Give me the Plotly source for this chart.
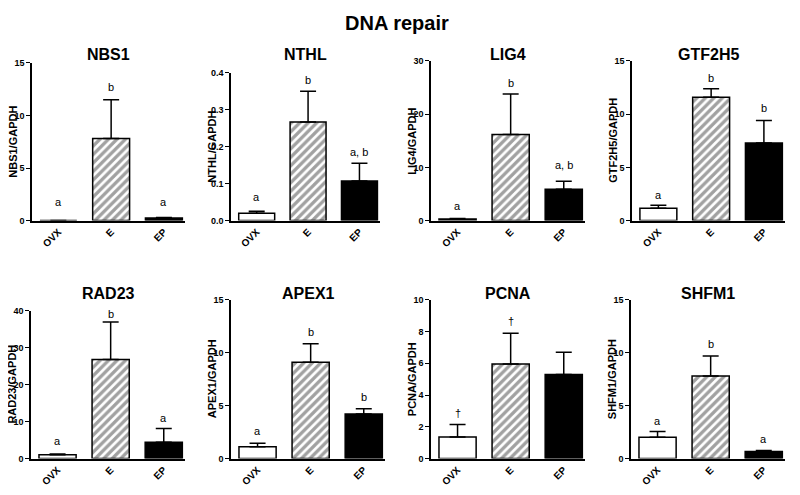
import plotly.graph_objs as go

# page body keeps its default 8px margin, so the figure is drawn 8px in from the corner
PAD = 8
W, H = 800 - 2 * PAD, 495 - 2 * PAD

groups = ['OVX', 'E', 'EP']
genes = ['NBS1', 'NTHL', 'LIG4', 'GTF2H5', 'RAD23', 'APEX1', 'PCNA', 'SHFM1']

nbs1 = [0.0, 7.8, 0.25]
nbs1_err = [0.0, 3.7, 0.05]
nthl = [0.02, 0.267, 0.107]
nthl_err = [0.005, 0.083, 0.048]
lig4 = [0.3, 16.2, 5.9]
lig4_err = [0.1, 7.6, 1.5]
gtf2h5 = [1.15, 11.6, 7.3]
gtf2h5_err = [0.3, 0.8, 2.1]
rad23 = [1.0, 26.8, 4.4]
rad23_err = [0.2, 10.1, 3.7]
apex1 = [1.1, 9.1, 4.2]
apex1_err = [0.35, 1.75, 0.5]
pcna = [1.35, 5.95, 5.3]
pcna_err = [0.8, 1.95, 1.4]
shfm1 = [2.0, 7.8, 0.65]
shfm1_err = [0.55, 1.9, 0.1]

letters = {
    'NBS1': ['a', 'b', 'a'],
    'NTHL': ['a', 'b', 'a, b'],
    'LIG4': ['a', 'b', 'a, b'],
    'GTF2H5': ['a', 'b', 'b'],
    'RAD23': ['a', 'b', 'a'],
    'APEX1': ['a', 'b', 'b'],
    'PCNA': ['\u2020', '\u2020', ''],
    'SHFM1': ['a', 'b', 'a'],
}
# height (data units) where each letter sits
letter_y = {
    'NBS1': [1.8, 12.7, 1.8],
    'NTHL': [0.064, 0.379, 0.185],
    'LIG4': [2.8, 25.8, 10.5],
    'GTF2H5': [2.4, 13.4, 10.6],
    'RAD23': [4.8, 39.0, 10.9],
    'APEX1': [2.6, 12.0, 5.8],
    'PCNA': [2.85, 8.65, 0],
    'SHFM1': [3.5, 10.8, 1.85],
}

y_max = [15, 0.4, 30, 15, 40, 15, 10, 15]
y_dtick = [5, 0.1, 10, 5, 10, 5, 2, 5]

means = [nbs1, nthl, lig4, gtf2h5, rad23, apex1, pcna, shfm1]
errs = [nbs1_err, nthl_err, lig4_err, gtf2h5_err, rad23_err, apex1_err, pcna_err, shfm1_err]

# panel boxes in page pixels: axis left, axis right, top, zero line
boxes = [(32, 185, 59, 220), (231, 380, 69, 220), (431, 585, 57, 220), (632, 785, 57, 220),
         (31, 185, 312, 463), (231, 385, 301, 463), (431, 585, 301, 463), (631, 785, 301, 463)]

FONT = 'Arial, Liberation Sans, sans-serif'
fills = ['white', 'white', 'black']
patterns = ['', '/', '']


def px(x):
    return (x - PAD) / W


def py(y):
    return 1 - (y - PAD) / H


fig = go.Figure()
annotations = []
layout = {}

for i, gene in enumerate(genes):
    n = '' if i == 0 else str(i + 1)
    x0, x1, yt, yz = boxes[i]
    fig.add_trace(go.Bar(
        x=groups, y=means[i],
        xaxis='x' + n, yaxis='y' + n,
        width=0.7,
        marker=dict(color=fills, line=dict(color='black', width=1.5),
                    pattern=dict(shape=patterns, fgcolor='black', bgcolor='white',
                                 size=6, solidity=0.55)),
        error_y=dict(type='data', array=errs[i], arrayminus=[0, 0, 0],
                     symmetric=False, color='black', thickness=1.5, width=8),
        showlegend=False))

    layout['xaxis' + n] = dict(
        domain=[px(x0), px(x1)], anchor='y' + n, range=[-0.5, 2.4],
        showline=True, linecolor='black', linewidth=1.5, ticks='',
        tickangle=-45, tickfont=dict(family=FONT, size=10, color='black', weight='bold'),
        showgrid=False, zeroline=False, fixedrange=True)
    fmt = '.1f' if y_max[i] < 1 else 'd'
    layout['yaxis' + n] = dict(
        domain=[py(yz), py(yt)], anchor='x' + n, range=[0, y_max[i]],
        dtick=y_dtick[i], tickformat=fmt,
        showline=True, linecolor='black', linewidth=1.5, ticks='outside', ticklen=4,
        tickwidth=1.2, tickcolor='black',
        tickfont=dict(family=FONT, size=9, color='black', weight='bold'),
        showgrid=False, zeroline=False, fixedrange=True)

    # panel title
    title_y = 50 if yz < 300 else 294
    annotations.append(dict(x=px((x0 + x1) / 2), y=py(title_y), xref='paper', yref='paper',
                            text='<b>%s</b>' % gene, showarrow=False,
                            xanchor='center', yanchor='middle',
                            font=dict(family=FONT, size=16, color='black')))
    # y-axis label
    annotations.append(dict(x=px(x0 - 19), y=py((yt + yz) / 2), xref='paper', yref='paper',
                            text='<b>%s/GAPDH</b>' % gene, showarrow=False, textangle=-90,
                            xanchor='center', yanchor='middle',
                            font=dict(family=FONT, size=11, color='black')))
    # significance letters
    for j, g in enumerate(groups):
        if letters[gene][j]:
            annotations.append(dict(x=g, y=letter_y[gene][j], xref='x' + n, yref='y' + n,
                                    text=letters[gene][j], showarrow=False,
                                    xanchor='center', yanchor='middle',
                                    font=dict(family=FONT, size=11, color='black')))

annotations.append(dict(x=px(397), y=py(18), xref='paper', yref='paper',
                        text='<b>DNA repair</b>', showarrow=False,
                        xanchor='center', yanchor='middle',
                        font=dict(family='Liberation Sans Narrow, Arial Narrow, Liberation Sans',
                                  size=20, color='black')))

fig.update_layout(width=W, height=H, margin=dict(l=0, r=0, t=0, b=0),
                  plot_bgcolor='white', paper_bgcolor='white',
                  annotations=annotations, bargap=0.3, **layout)

fig.write_html('out.html')
